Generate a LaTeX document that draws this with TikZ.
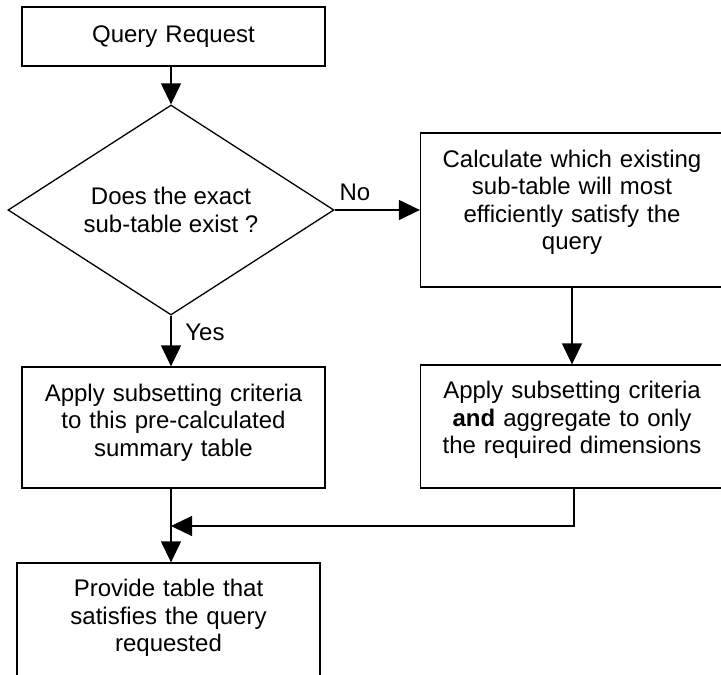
\documentclass[tikz,border=0pt]{standalone}
\usepackage{fontspec}
\setmainfont{Liberation Sans}
\usetikzlibrary{arrows.meta,positioning,shapes.geometric}

\begin{document}
\begin{tikzpicture}[
    x=1pt, y=-1pt,
    font=\fontsize{24}{27.5}\selectfont,
    >={Triangle[width=20pt, length=21pt]},
    box/.style={draw, line width=1.3pt, minimum width=303pt, text width=290pt, inner xsep=6.5pt, align=center},
    lift/.style={execute at end node={\endgraf\vspace{#1}}},
    decision/.style={draw, line width=1.3pt, diamond, aspect=1.55, minimum width=326pt, minimum height=210pt, inner sep=0pt, align=center},
    lbl/.style={inner sep=0pt},
    arrow/.style={->, line width=1.3pt},
]
    \useasboundingbox (0,0) rectangle (721,675);
    \clip (0,0) rectangle (721,675);

    % =====================================================================
    % LEFT COLUMN
    % =====================================================================
    \node[box, minimum height=59pt] (query) at (173.5, 36.5) {Query Request};

    \node[decision] (exists) at (171, 210) {Does the exact\\sub-table exist ?};

    \node[box, lift=10pt, minimum height=121pt] (apply) at (173.5, 427.5) {Apply subsetting criteria\\to this pre-calculated\\summary table};

    \node[box, lift=13pt, minimum height=123pt] (provide) at (168.5, 624.5) {Provide table that\\satisfies the query\\requested};

    % =====================================================================
    % RIGHT COLUMN
    % =====================================================================
    \node[box, lift=15pt, minimum height=154pt] (choose) at (572, 210) {Calculate which existing\\sub-table will most\\efficiently satisfy the\\query};

    \node[box, lift=13pt, minimum height=123pt] (aggregate) at (572, 426.5) {Apply subsetting criteria\\\textbf{and} aggregate to only\\the required dimensions};

    % Labels
    \node[lbl] (nolbl) at (355, 192) {No};
    \node[lbl] (yeslbl) at (205, 332) {Yes};

    % Connections
    \draw[arrow] (exists.north |- query.south) -- (exists.north);
    \draw[arrow] (exists.east) -- (choose.west);
    \draw[arrow] (exists.south) -- (exists.south |- apply.north);
    \draw[arrow] (choose.south) -- (choose.south |- aggregate.north);
    \draw[arrow] (exists.south |- apply.south) -- (exists.south |- provide.north);

    % Merge of right branch
    \coordinate (merge) at (171, 526);
    \draw[arrow] (574, 488) |- (merge);
\end{tikzpicture}
\end{document}
